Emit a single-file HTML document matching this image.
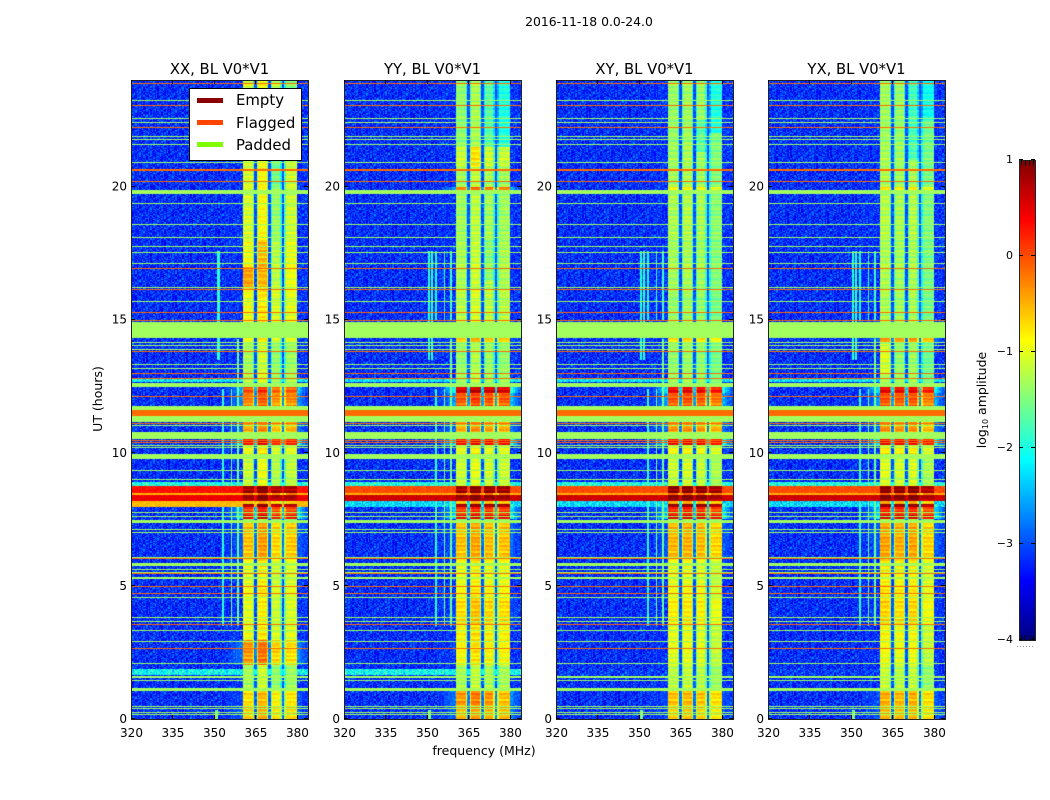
<!DOCTYPE html>
<html lang="en">
<head>
<meta charset="utf-8">
<title>2016-11-18 0.0-24.0 spectrogram</title>
<style>
html,body{margin:0;padding:0;background:#fff;}
#figure{position:relative;width:1050px;height:800px;overflow:hidden;background:#fff;font-family:"DejaVu Sans",sans-serif;}
canvas{position:absolute;display:block;}
#overlay{position:absolute;left:0;top:0;}
#overlay text{font-family:"DejaVu Sans",sans-serif;fill:#000;}
</style>
</head>
<body>
<div id="figure">
<svg id="overlay" width="1050" height="800" viewBox="0 0 1050 800">
  <text x="589" y="26" text-anchor="middle" font-size="12.4">2016-11-18 0.0-24.0</text>
  <text x="484" y="755" text-anchor="middle" font-size="12.5">frequency (MHz)</text>
  <text transform="translate(102,399) rotate(-90)" text-anchor="middle" font-size="12.5">UT (hours)</text>
  <text transform="translate(986,400) rotate(-90)" text-anchor="middle" font-size="12.5">log<tspan font-size="8" dy="2">10</tspan><tspan dy="-2"> amplitude</tspan></text>
  <g id="axes"></g>
  <g id="colorbar-axis"></g>
  <g>
    <rect x="189.5" y="88.5" width="112" height="72" fill="#fff" stroke="#000" stroke-width="1"/>
    <rect x="197" y="98" width="26" height="5" fill="#8b0000"/>
    <text x="236" y="105" font-size="14.9">Empty</text>
    <rect x="197" y="120" width="26" height="5" fill="#ff4500"/>
    <text x="236" y="128" font-size="14.9">Flagged</text>
    <rect x="197" y="142" width="26" height="5" fill="#7fff00"/>
    <text x="236" y="150" font-size="14.9">Padded</text>
  </g>
</svg>
</div>
<script>
/* ---------- Chart data ---------- */
const panelNames = ['XX', 'YY', 'XY', 'YX'];
const frequencyTicks = [320, 335, 350, 365, 380];
const hourTicks = [0, 5, 10, 15, 20];
const colorbarTicks = [1, 0, -1, -2, -3, -4];

/* Bright frequency bands, MHz */
const spectralBands = [[360.5, 364.5], [365.5, 369.5], [370.5, 374.5], [375.5, 380]];
/* Level offset of each band, one row per panel */
const bandOffsets = [
  [-0.05, 0.15, -0.15, -0.10],
  [-0.05, 0.10, 0.00, -0.05],
  [0.05, 0.10, 0.05, -0.10],
  [0.10, 0.05, 0.10, -0.15]
];
/* Start hour, end hour, in-band log10 amplitude for XX, YY, XY, YX */
const inBandLevels = [
  [21.48, 24.01, -1.10, -1.40, -1.45, -1.45],
  [20.73, 21.48, -1.05, -1.10, -1.40, -1.40],
  [19.98, 20.73, -1.05, -1.30, -1.40, -1.40],
  [19.71, 19.98, -0.95, -0.15, -0.85, -0.80],
  [17.99, 19.71, -1.05, -1.30, -1.35, -1.35],
  [16.11, 17.99, -0.90, -1.25, -1.40, -1.40],
  [14.34, 16.11, -0.95, -1.20, -1.45, -1.40],
  [14.16, 14.34, -1.00, -0.70, -0.90, -0.55],
  [12.54, 14.16, -1.25, -1.35, -1.45, -1.45],
  [12.28, 12.54, 0.00, 0.55, 0.35, 0.35],
  [11.72, 12.28, -0.25, -0.05, -0.15, -0.15],
  [10.51, 11.72, -0.45, -0.45, -0.45, -0.45],
  [10.29, 10.51, 0.35, 0.40, 0.35, 0.35],
  [9.76, 10.29, -0.90, -0.95, -0.95, -0.90],
  [8.75, 9.76, -1.10, -1.10, -1.20, -1.15],
  [8.49, 8.75, 0.88, 0.88, 0.88, 0.88],
  [8.41, 8.49, -0.10, -0.10, -0.10, -0.10],
  [8.19, 8.41, 0.85, 0.85, 0.85, 0.85],
  [8.07, 8.19, -0.60, -0.60, -0.60, -0.60],
  [7.96, 8.07, 0.85, 0.85, 0.85, 0.85],
  [7.66, 7.96, 0.15, 0.15, 0.15, 0.15],
  [7.51, 7.66, 0.45, 0.45, 0.45, 0.45],
  [7.36, 7.51, -1.20, -1.20, -1.20, -1.20],
  [6.08, 7.36, -0.55, -0.55, -0.60, -0.55],
  [4.54, 6.08, -0.95, -0.90, -1.05, -0.90],
  [3.53, 4.54, -1.00, -0.70, -0.90, -0.80],
  [2.97, 3.53, -0.95, -0.85, -1.10, -1.00],
  [2.03, 2.97, -0.35, -0.85, -1.10, -1.05],
  [1.09, 2.03, -1.25, -1.25, -1.25, -1.25],
  [0.53, 1.09, -0.70, -0.35, -0.65, -0.60],
  [0.00, 0.53, -0.60, -0.50, -0.70, -0.60]
];
/* Panel index, band index, start hour, end hour, level change */
const bandPatches = [
  [0, 2, 19.9, 21.5, -0.35],
  [0, 3, 23.3, 24.01, -0.30],
  [0, 2, 16.3, 19.7, -0.20],
  [0, 0, 16.11, 16.97, 0.50],
  [0, 1, 16.11, 17.99, 0.20],
  [0, 2, 2.03, 2.97, -0.20],
  [0, 3, 2.03, 2.97, -0.30],
  [1, 2, 21.48, 24.01, -0.30],
  [1, 3, 21.48, 24.01, -0.55],
  [1, 1, 20.73, 21.48, 0.25],
  [1, 2, 16.5, 18.0, -0.20],
  [1, 3, 0.53, 1.09, -0.20],
  [2, 3, 22.0, 24.01, -0.45],
  [2, 2, 21.3, 22.5, -0.30],
  [3, 2, 21.0, 24.01, -0.45],
  [3, 3, 22.5, 24.01, -0.50],
  [3, 0, 13.0, 14.1, 0.30]
];
/* Start hour, end hour, out-of-band level for XX, YY, XY, YX */
const broadbandRows = [
  [12.66, 12.77, -2.2, -2.2, -2.2, -2.2],
  [8.75, 8.90, -2.0, -2.0, -2.0, -2.0],
  [8.49, 8.75, 0.30, 0.00, 0.00, 0.00],
  [8.41, 8.49, -0.50, -0.50, -0.50, -0.50],
  [8.19, 8.41, 0.45, 0.60, 0.60, 0.60],
  [7.96, 8.19, -0.55, -2.30, -2.30, -2.30],
  [1.65, 1.88, -2.1, -2.1, -3.1, -3.1]
];
/* Hours of one-pixel padded rows */
const thinPaddedRows = [23.24, 22.57, 22.42, 21.89, 21.78, 21.59, 20.92, 19.38, 18.59, 18.10, 17.76, 17.54, 17.12, 16.22, 15.70, 14.16, 14.04, 13.89, 13.33, 13.18, 11.00, 10.25, 10.18, 9.31, 8.97, 7.74, 7.59, 7.10, 6.98, 6.05, 5.60, 5.48, 4.54, 3.79, 3.64, 3.30, 2.89, 2.07, 0.45, 0.38, 0.26, 0.15];
/* Start and end hours of wide padded blocks */
const paddedBlocks = [[19.71, 19.86], [14.34, 14.91], [12.50, 12.62], [11.15, 11.72], [10.51, 10.78], [9.76, 9.95], [7.36, 7.47], [5.75, 5.86], [5.26, 5.33], [1.54, 1.61], [1.43, 1.46], [1.05, 1.16]];
/* Hours of one-pixel flagged rows */
const thinFlaggedRows = [23.88, 23.06, 22.23, 20.20, 16.94, 16.15, 15.28, 14.98, 13.82, 12.99, 12.81, 12.13, 11.08, 10.44, 10.36, 6.01, 5.44, 4.96, 4.69, 3.53, 2.63];
/* Start and end hours of wide flagged blocks */
const flaggedBlocks = [[11.38, 11.57], [20.58, 20.66]];
/* f0, f1, hour0, hour1, level, panels showing the narrow vertical line */
const verticalLines = [
  [351, 352.2, 13.5, 17.6, -1.9, [0]],
  [350.5, 351, 13.5, 17.6, -1.9, [1, 2, 3]],
  [351.5, 352, 13.5, 17.6, -1.9, [1, 2, 3]],
  [353, 353.5, 15.0, 17.6, -2.0, [1, 2, 3]],
  [356, 356.5, 15.0, 17.6, -1.8, [1, 2, 3]],
  [358.5, 359, 15.0, 17.6, -1.8, [1, 2, 3]],
  [353, 353.5, 3.5, 12.4, -1.9, [0, 1, 2, 3]],
  [356, 356.5, 3.5, 12.4, -1.5, [0, 1, 2, 3]],
  [358.5, 359, 3.5, 14.3, -1.6, [0, 1, 2, 3]],
  [350.5, 351.5, 0, 0.35, -1.5, [0, 1, 2, 3]]
];
/* Coupling of each MHz channel beside the bands to the in-band level */
const leftShoulder = [0.10, 0.20, 0.30, 0.40, 0.55, 0.70, 0.90];
const rightShoulder = [0.90, 0.65, 0.45, 0.25];
const rowRipple = [0.12, -0.08, 0.20, -0.18, 0.05, 0.24, -0.12, 0.02, 0.16, -0.24, 0.08, -0.04, 0.22, -0.16, 0.10, -0.02, 0.18, -0.20, 0.04, 0.14, -0.10, 0.26, -0.14, 0.00, 0.12, -0.22, 0.06, 0.16, -0.06, 0.20, -0.26, 0.08, -0.12, 0.18, 0.02, -0.16, 0.10];
/* Hand-typed speckle tile: a texture estimate, not per-cell measurements */
const speckleTile = [
  '43526145307264918352406173529',
  '51740362958134067241593640728',
  '36281547039625148073625914036',
  '62405173846029357184206359417',
  '27593614082745163908547126350',
  '48162039574816230695143782506',
  '15736420968351472604839125674',
  '70348265139670425813762049351',
  '34951708264183590726415367082',
  '59217436081542736950182643795',
  '26084913675208461397520846136'
];
const quietLevel = -3.2;
const paddedLevel = -1.33;
const flaggedLevel = -0.15;
const gapLevel = -3.0;

/* ---------- Layout and scales ---------- */
const panelLeftEdges = [131, 344, 556, 768];
const panelWidth = 177;
const panelTop = 80;
const panelBottom = 719;
const freqMin = 320, freqMax = 384, hourMin = 0, hourMax = 24;
const channelStep = 0.5, rowStep = 0.0375;
const SVGNS = 'http://www.w3.org/2000/svg';

function xScale(left, f) { return left + (f - freqMin) / (freqMax - freqMin) * panelWidth; }
function yScale(h) { return panelBottom - (h - hourMin) / (hourMax - hourMin) * (panelBottom - panelTop); }
function clip(v) { return Math.max(0, Math.min(1, v)); }
function jet(v) {
  const t = clip((v + 4) / 5);
  const r = clip(1.5 - Math.abs(4 * t - 3));
  const g = clip(1.5 - Math.abs(4 * t - 2));
  const b = clip(1.5 - Math.abs(4 * t - 1));
  return 'rgb(' + Math.round(r * 255) + ',' + Math.round(g * 255) + ',' + Math.round(b * 255) + ')';
}
function nearRow(list, h) {
  return list.some(function (c) { return Math.abs(c - h) <= rowStep / 2; });
}
function inBlock(list, h) {
  return list.some(function (b) { return h >= b[0] && h <= b[1]; });
}
function speckle(p, r, c) {
  const row = speckleTile[(r + p * 5) % speckleTile.length];
  const d = Number(row[(c + r * 7 + p * 13) % row.length]);
  return (d - 4) * 0.1;
}
function bandIndex(f) {
  for (let i = 0; i < spectralBands.length; i++) {
    if (f >= spectralBands[i][0] && f < spectralBands[i][1]) { return i; }
  }
  return -1;
}
function levelAt(p, h) {
  for (let i = 0; i < inBandLevels.length; i++) {
    if (h >= inBandLevels[i][0] && h < inBandLevels[i][1]) { return inBandLevels[i][p + 2]; }
  }
  return -1.2;
}
function broadbandAt(p, h) {
  for (let i = 0; i < broadbandRows.length; i++) {
    if (h >= broadbandRows[i][0] && h < broadbandRows[i][1]) { return broadbandRows[i][p + 2]; }
  }
  return quietLevel;
}
function patchDelta(p, band, h) {
  let d = 0;
  for (let i = 0; i < bandPatches.length; i++) {
    const q = bandPatches[i];
    if (q[0] === p && q[1] === band && h >= q[2] && h < q[3]) { d += q[4]; }
  }
  return d;
}
function cellValue(p, r, c, h, f, inBand, outBand) {
  const s = speckle(p, r, c);
  const band = bandIndex(f);
  const ripple = rowRipple[(r >> 1) % rowRipple.length];
  if (band >= 0) {
    let v = inBand + bandOffsets[p][band] + patchDelta(p, band, h) + ripple * 0.7 + s * 0.2;
    const atGapEdge = (band > 0 && f - spectralBands[band][0] < channelStep) ||
      (band < spectralBands.length - 1 && spectralBands[band][1] - f < channelStep);
    if (atGapEdge && inBand < 0.5) { v -= 0.55; }
    return v;
  }
  if (f >= spectralBands[0][0] && f < spectralBands[3][1]) {
    return Math.max(outBand, gapLevel + Math.max(0, inBand + 0.9) * 0.5) + s * 0.5;
  }
  let v = outBand + (outBand > -1 ? s * 0.25 : s);
  const coupling = Math.max(0, Math.min(1.5, inBand + 0.9));
  if (f >= 354 && f < 360.5) {
    const k = leftShoulder[Math.min(leftShoulder.length - 1, Math.floor(f - 354))];
    v = Math.max(v, quietLevel + k * coupling + s * 0.5);
  } else if (f >= 380) {
    const k = rightShoulder[Math.min(rightShoulder.length - 1, Math.floor(f - 380))];
    v = Math.max(v, quietLevel + k * coupling + s * 0.5);
  }
  for (let i = 0; i < verticalLines.length; i++) {
    const l = verticalLines[i];
    if (f >= l[0] && f < l[1] && h >= l[2] && h < l[3] && l[5].indexOf(p) >= 0) { v = Math.max(v, l[4]); }
  }
  return v;
}
function rowColor(h) {
  if (inBlock(flaggedBlocks, h) || nearRow(thinFlaggedRows, h)) { return jet(flaggedLevel); }
  if (inBlock(paddedBlocks, h) || nearRow(thinPaddedRows, h)) { return jet(paddedLevel); }
  return null;
}

/* ---------- Heatmaps ---------- */
const figure = document.getElementById('figure');
const overlay = document.getElementById('overlay');
const axesLayer = document.getElementById('axes');
const rowCount = Math.round((hourMax - hourMin) / rowStep);
const colCount = Math.round((freqMax - freqMin) / channelStep);

panelNames.forEach(function (name, p) {
  const left = panelLeftEdges[p];
  const cv = document.createElement('canvas');
  
  
  cv.width = panelWidth;
  cv.height = panelBottom - panelTop;
  cv.style.left = left + 'px';
  cv.style.top = panelTop + 'px';
  figure.insertBefore(cv, overlay);
  const ctx = cv.getContext('2d');
  for (let r = 0; r < rowCount; r++) {
    const h0 = hourMin + r * rowStep;
    const h = h0 + rowStep / 2;
    const y0 = Math.round(yScale(h0 + rowStep)) - panelTop;
    const y1 = Math.round(yScale(h0)) - panelTop;
    const fixed = rowColor(h);
    if (fixed) {
      ctx.fillStyle = fixed;
      ctx.fillRect(0, y0, panelWidth, Math.max(1, y1 - y0));
      continue;
    }
    const inBand = levelAt(p, h);
    const outBand = broadbandAt(p, h);
    for (let c = 0; c < colCount; c++) {
      const f0 = freqMin + c * channelStep;
      const x0 = Math.round(xScale(left, f0)) - left;
      const x1 = Math.round(xScale(left, f0 + channelStep)) - left;
      ctx.fillStyle = jet(cellValue(p, r, c, h, f0 + channelStep / 2, inBand, outBand));
      ctx.fillRect(x0, y0, x1 - x0, Math.max(1, y1 - y0));
    }
  }

  /* ---------- Panel frame, ticks, labels ---------- */
  const group = document.createElementNS(SVGNS, 'g');
  
  
  axesLayer.appendChild(group);

  const frame = document.createElementNS(SVGNS, 'rect');
  
  
  frame.setAttribute('x', left + 0.5);
  frame.setAttribute('y', panelTop + 0.5);
  frame.setAttribute('width', panelWidth);
  frame.setAttribute('height', panelBottom - panelTop);
  frame.setAttribute('fill', 'none');
  frame.setAttribute('stroke', '#222');
  group.appendChild(frame);

  const title = document.createElementNS(SVGNS, 'text');
  
  
  title.setAttribute('x', left + panelWidth / 2);
  title.setAttribute('y', 74);
  title.setAttribute('text-anchor', 'middle');
  title.setAttribute('font-size', '14.8');
  title.textContent = name + ', BL V0*V1';
  group.appendChild(title);

  frequencyTicks.forEach(function (f) {
    const x = Math.round(xScale(left, f)) + 0.5;
    [[panelBottom, panelBottom - 4], [panelTop, panelTop + 4]].forEach(function (ends) {
      const tick = document.createElementNS(SVGNS, 'line');
      
      
      tick.setAttribute('x1', x);
      tick.setAttribute('x2', x);
      tick.setAttribute('y1', ends[0]);
      tick.setAttribute('y2', ends[1]);
      tick.setAttribute('stroke', '#000');
      group.appendChild(tick);
    });
    const label = document.createElementNS(SVGNS, 'text');
    
    
    label.setAttribute('x', xScale(left, f) + 0.5);
    label.setAttribute('y', 737);
    label.setAttribute('text-anchor', 'middle');
    label.setAttribute('font-size', '12');
    label.textContent = String(f);
    group.appendChild(label);
  });

  hourTicks.forEach(function (hour) {
    const y = Math.round(yScale(hour)) - 0.5;
    [[left, left + 4], [left + panelWidth, left + panelWidth - 4]].forEach(function (ends) {
      const tick = document.createElementNS(SVGNS, 'line');
      
      
      tick.setAttribute('x1', ends[0]);
      tick.setAttribute('x2', ends[1]);
      tick.setAttribute('y1', y);
      tick.setAttribute('y2', y);
      tick.setAttribute('stroke', '#000');
      group.appendChild(tick);
    });
    const label = document.createElementNS(SVGNS, 'text');
    
    
    label.setAttribute('x', left - 4);
    label.setAttribute('y', yScale(hour) + 4);
    label.setAttribute('text-anchor', 'end');
    label.setAttribute('font-size', '12');
    label.textContent = String(hour);
    group.appendChild(label);
  });
});

/* ---------- Colorbar ---------- */
const cbLeft = 1019, cbWidth = 16, cbTop = 160, cbBottom = 640;
const cbMin = -4, cbMax = 1;
function cbScale(v) { return cbBottom - (v - cbMin) / (cbMax - cbMin) * (cbBottom - cbTop); }

const cbCanvas = document.createElement('canvas');


cbCanvas.width = cbWidth;
cbCanvas.height = cbBottom - cbTop;
cbCanvas.style.left = cbLeft + 'px';
cbCanvas.style.top = cbTop + 'px';
figure.insertBefore(cbCanvas, overlay);
const cbCtx = cbCanvas.getContext('2d');
for (let py = 0; py < cbBottom - cbTop; py++) {
  cbCtx.fillStyle = jet(cbMax - (py + 0.5) / (cbBottom - cbTop) * (cbMax - cbMin));
  cbCtx.fillRect(0, py, cbWidth, 1);
}

const cbLayer = document.getElementById('colorbar-axis');
const cbFrame = document.createElementNS(SVGNS, 'rect');


cbFrame.setAttribute('x', cbLeft + 0.5);
cbFrame.setAttribute('y', cbTop + 0.5);
cbFrame.setAttribute('width', cbWidth);
cbFrame.setAttribute('height', cbBottom - cbTop);
cbFrame.setAttribute('fill', 'none');
cbFrame.setAttribute('stroke', '#222');
cbLayer.appendChild(cbFrame);

colorbarTicks.forEach(function (v) {
  const y = Math.round(cbScale(v)) - 0.5;
  [[cbLeft, cbLeft + 4], [cbLeft + cbWidth, cbLeft + cbWidth - 4]].forEach(function (ends) {
    const tick = document.createElementNS(SVGNS, 'line');
    
    
    tick.setAttribute('x1', ends[0]);
    tick.setAttribute('x2', ends[1]);
    tick.setAttribute('y1', y);
    tick.setAttribute('y2', y);
    tick.setAttribute('stroke', '#000');
    cbLayer.appendChild(tick);
  });
  const label = document.createElementNS(SVGNS, 'text');
  
  
  label.setAttribute('x', 1013);
  label.setAttribute('y', cbScale(v) + 3);
  label.setAttribute('text-anchor', 'end');
  label.setAttribute('font-size', '11');
  label.textContent = v < 0 ? '\u2212' + Math.abs(v) : String(v);
  cbLayer.appendChild(label);
});

/* Fine edge ticks at both colorbar ends, plus the dotted mark below it */
[cbTop, cbBottom].forEach(function (edge, i) {
  const hairs = document.createElementNS(SVGNS, 'line');
  
  
  const y = i === 0 ? edge + 3 : edge - 2;
  hairs.setAttribute('x1', cbLeft + 2);
  hairs.setAttribute('x2', cbLeft + cbWidth - 1);
  hairs.setAttribute('y1', y);
  hairs.setAttribute('y2', y);
  hairs.setAttribute('stroke', '#000');
  hairs.setAttribute('stroke-width', '5');
  hairs.setAttribute('stroke-dasharray', '1 3');
  cbLayer.appendChild(hairs);
});
const cbDots = document.createElement
  ? document.createElementNS(SVGNS, 'line')
  : null;


cbDots.setAttribute('x1', 1017);
cbDots.setAttribute('x2', 1035);
cbDots.setAttribute('y1', 646.5);
cbDots.setAttribute('y2', 646.5);
cbDots.setAttribute('stroke', '#999');
cbDots.setAttribute('stroke-dasharray', '1 2');
cbLayer.appendChild(cbDots);
</script>
</body>
</html>
